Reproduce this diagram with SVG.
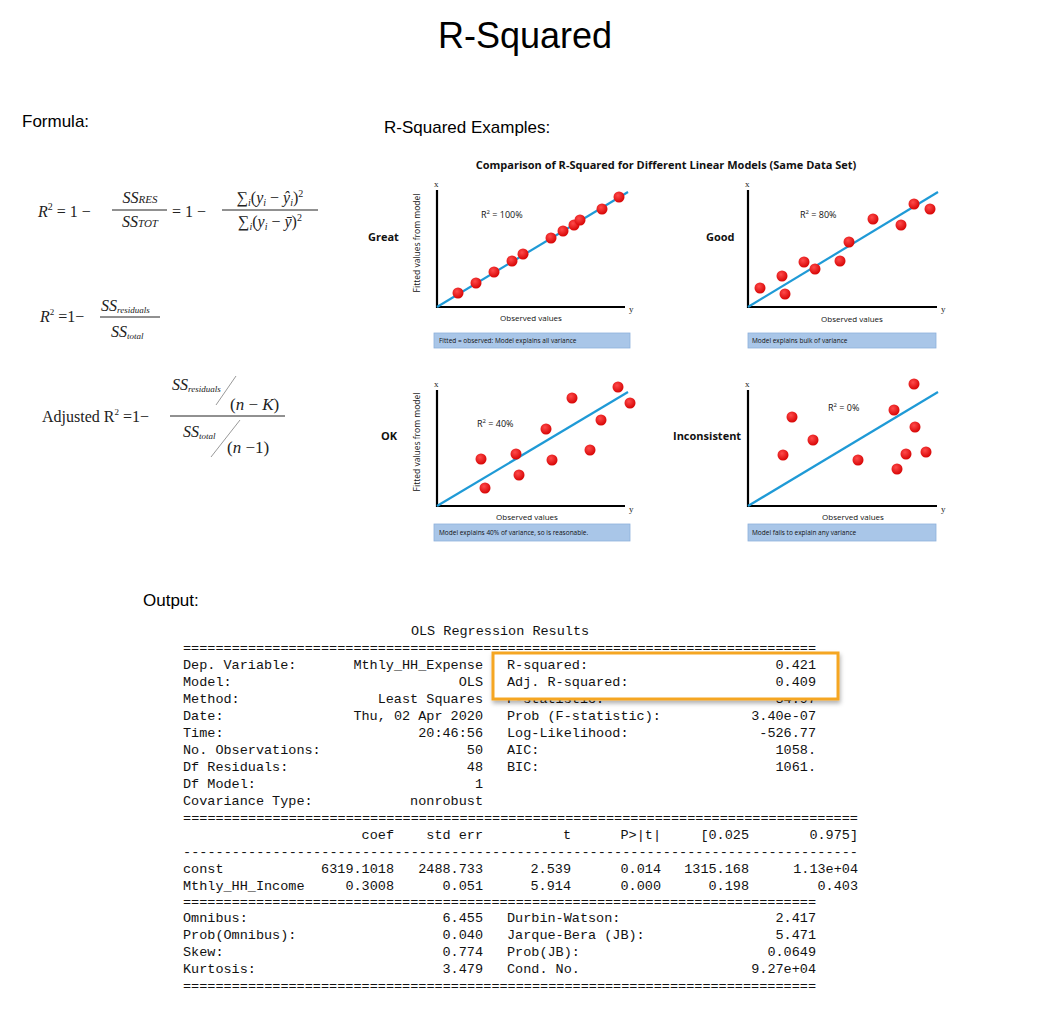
<svg xmlns="http://www.w3.org/2000/svg" width="1047" height="1021" viewBox="0 0 1047 1021">
<defs>
<style>
.h{font-family:"Liberation Sans",Arial,sans-serif;fill:#000}
.m{font-family:"Liberation Mono","DejaVu Sans Mono",monospace;font-size:13.5px;fill:#111;white-space:pre}
.e{text-anchor:end}
.c{font-family:"Open Sans","Liberation Sans",sans-serif;fill:#111}
.s{font-family:"Liberation Serif","Times New Roman",serif;fill:#222}
.i{font-style:italic}
.ax{stroke:#000;stroke-width:2.2;fill:none}
.ln{stroke:#1f9ad6;stroke-width:2.2}
.d{fill:url(#dot)}
.bx{fill:#a9c6e8;stroke:#8eb1dc;stroke-width:0.8}
</style>
<radialGradient id="dot" cx="0.4" cy="0.35" r="0.7"><stop offset="0" stop-color="#ff4a4a"/><stop offset="1" stop-color="#d40000"/></radialGradient>
<filter id="sh" x="-10%" y="-20%" width="120%" height="150%"><feDropShadow dx="1" dy="3" stdDeviation="2" flood-opacity="0.3"/></filter>
</defs>
<rect width="1047" height="1021" fill="#fff"/>
<text class="h" x="525" y="48" font-size="36" text-anchor="middle">R-Squared</text>
<text class="h" x="22" y="127" font-size="17">Formula:</text>
<text class="h" x="384" y="133" font-size="17">R-Squared Examples:</text>
<text class="h" x="143" y="606" font-size="17">Output:</text>

<g id="formula1" class="s" font-size="16">
<text x="38" y="217" class="i">R<tspan font-size="10" dy="-7" font-style="normal">2</tspan><tspan dy="7" font-style="normal"> = 1 −</tspan></text>
<text x="140" y="203" text-anchor="middle" class="i">SS<tspan font-size="11">RES</tspan></text>
<line x1="112" y1="210" x2="167" y2="210" stroke="#222"/>
<text x="140" y="227" text-anchor="middle" class="i">SS<tspan font-size="11">TOT</tspan></text>
<text x="172" y="217">= 1 −</text>
<text x="270" y="203" text-anchor="middle">∑<tspan font-size="10" dy="3" class="i">i</tspan><tspan dy="-3">(</tspan><tspan class="i">y</tspan><tspan font-size="10" dy="3" class="i">i</tspan><tspan dy="-3"> − </tspan><tspan class="i">ŷ</tspan><tspan font-size="10" dy="3" class="i">i</tspan><tspan dy="-3">)</tspan><tspan font-size="10" dy="-6">2</tspan></text>
<line x1="222" y1="210" x2="318" y2="210" stroke="#222"/>
<text x="270" y="227" text-anchor="middle">∑<tspan font-size="10" dy="3" class="i">i</tspan><tspan dy="-3">(</tspan><tspan class="i">y</tspan><tspan font-size="10" dy="3" class="i">i</tspan><tspan dy="-3"> − </tspan><tspan class="i">ȳ</tspan><tspan dy="0">)</tspan><tspan font-size="10" dy="-6">2</tspan></text>
</g>

<g id="formula2" class="s" font-size="16">
<text x="40" y="322" class="i">R<tspan font-size="9" dy="-7" font-style="normal">2</tspan><tspan dy="7" font-style="normal"> =1−</tspan></text>
<text x="101" y="311" class="i">SS<tspan font-size="9" dy="2">residuals</tspan></text>
<line x1="100" y1="317" x2="160" y2="317" stroke="#222"/>
<text x="111" y="337" class="i">SS<tspan font-size="9" dy="2">total</tspan></text>
</g>

<g id="formula3" class="s" font-size="16">
<text x="42" y="422">Adjusted R<tspan font-size="9" dy="-7">2</tspan><tspan dy="7"> =1−</tspan></text>
<text x="172" y="390" class="i">SS<tspan font-size="9" dy="2">residuals</tspan></text>
<line x1="216" y1="405" x2="236" y2="376" stroke="#999"/>
<text x="230" y="410" font-size="17">(<tspan class="i">n</tspan> − <tspan class="i">K</tspan>)</text>
<line x1="170" y1="416" x2="285" y2="416" stroke="#222"/>
<text x="183" y="437" class="i">SS<tspan font-size="9" dy="2">total</tspan></text>
<line x1="211" y1="457" x2="240" y2="420" stroke="#999"/>
<text x="227" y="453" font-size="17">(<tspan class="i">n</tspan> −1)</text>
</g>

<text class="c" x="666" y="169" font-size="11" font-weight="bold" text-anchor="middle">Comparison of R-Squared for Different Linear Models (Same Data Set)</text>

<g id="chart-great">
<text class="c" x="368" y="241" font-size="11" font-weight="bold">Great</text>
<text class="c" x="420" y="243" font-size="8.5" text-anchor="middle" transform="rotate(-90 420 243)">Fitted values from model</text>
<path class="ax" d="M437 190V307H625"/>
<text class="s" x="434" y="187" font-size="9">x</text><text class="s" x="629" y="312" font-size="9">y</text>
<line class="ln" x1="437" y1="307" x2="628" y2="192"/>
<g class="d"><circle cx="458" cy="293" r="5.5"/><circle cx="476" cy="283" r="5.5"/><circle cx="494" cy="272" r="5.5"/><circle cx="512" cy="261" r="5.5"/><circle cx="523" cy="254" r="5.5"/><circle cx="551" cy="238" r="5.5"/><circle cx="563" cy="231" r="5.5"/><circle cx="574" cy="225" r="5.5"/><circle cx="580" cy="220" r="5.5"/><circle cx="602" cy="209" r="5.5"/><circle cx="619" cy="197" r="5.5"/></g>
<text class="c" x="481" y="218" font-size="9">R<tspan font-size="6" dy="-4">2</tspan><tspan dy="4"> = 100%</tspan></text>
<text class="c" x="531" y="321" font-size="8" text-anchor="middle">Observed values</text>
<rect class="bx" x="434" y="333" width="196" height="15"/>
<text class="c" x="439" y="343" font-size="6.5">Fitted = observed: Model explains all variance</text>
</g>

<g id="chart-good">
<text class="c" x="706" y="241" font-size="11" font-weight="bold">Good</text>
<path class="ax" d="M748 190V307H937"/>
<text class="s" x="745" y="187" font-size="9">x</text><text class="s" x="941" y="312" font-size="9">y</text>
<line class="ln" x1="748" y1="307" x2="938" y2="192"/>
<g class="d"><circle cx="760" cy="288" r="5.5"/><circle cx="782" cy="276" r="5.5"/><circle cx="785" cy="294" r="5.5"/><circle cx="804" cy="262" r="5.5"/><circle cx="815" cy="269" r="5.5"/><circle cx="840" cy="261" r="5.5"/><circle cx="849" cy="242" r="5.5"/><circle cx="873" cy="219" r="5.5"/><circle cx="901" cy="225" r="5.5"/><circle cx="914" cy="204" r="5.5"/><circle cx="930" cy="209" r="5.5"/></g>
<text class="c" x="800" y="218" font-size="9">R<tspan font-size="6" dy="-4">2</tspan><tspan dy="4">  = 80%</tspan></text>
<text class="c" x="852" y="322" font-size="8" text-anchor="middle">Observed values</text>
<rect class="bx" x="748" y="333" width="188" height="15"/>
<text class="c" x="752" y="343" font-size="6.5">Model explains bulk of variance</text>
</g>

<g id="chart-ok">
<text class="c" x="381" y="440" font-size="11" font-weight="bold">OK</text>
<text class="c" x="420" y="442" font-size="8.5" text-anchor="middle" transform="rotate(-90 420 442)">Fitted values from model</text>
<path class="ax" d="M437 390V506H625"/>
<text class="s" x="434" y="387" font-size="9">x</text><text class="s" x="629" y="512" font-size="9">y</text>
<line class="ln" x1="437" y1="506" x2="628" y2="392"/>
<g class="d"><circle cx="481" cy="459" r="5.5"/><circle cx="485" cy="488" r="5.5"/><circle cx="516" cy="454" r="5.5"/><circle cx="519" cy="475" r="5.5"/><circle cx="546" cy="429" r="5.5"/><circle cx="552" cy="460" r="5.5"/><circle cx="572" cy="398" r="5.5"/><circle cx="590" cy="450" r="5.5"/><circle cx="601" cy="420" r="5.5"/><circle cx="618" cy="387" r="5.5"/><circle cx="630" cy="403" r="5.5"/></g>
<text class="c" x="477" y="427" font-size="9">R<tspan font-size="6" dy="-4">2</tspan><tspan dy="4">  = 40%</tspan></text>
<text class="c" x="527" y="520" font-size="8" text-anchor="middle">Observed values</text>
<rect class="bx" x="434" y="524" width="196" height="17"/>
<text class="c" x="439" y="535" font-size="6.5">Model explains 40% of variance, so is reasonable.</text>
</g>

<g id="chart-inconsistent">
<text class="c" x="673" y="440" font-size="11" font-weight="bold">Inconsistent</text>
<path class="ax" d="M748 390V506H937"/>
<text class="s" x="745" y="387" font-size="9">x</text><text class="s" x="941" y="512" font-size="9">y</text>
<line class="ln" x1="748" y1="506" x2="938" y2="392"/>
<g class="d"><circle cx="783" cy="455" r="5.5"/><circle cx="792" cy="417" r="5.5"/><circle cx="813" cy="440" r="5.5"/><circle cx="858" cy="460" r="5.5"/><circle cx="894" cy="410" r="5.5"/><circle cx="897" cy="469" r="5.5"/><circle cx="906" cy="454" r="5.5"/><circle cx="914" cy="384" r="5.5"/><circle cx="915" cy="427" r="5.5"/><circle cx="926" cy="452" r="5.5"/></g>
<text class="c" x="828" y="411" font-size="9">R<tspan font-size="6" dy="-4">2</tspan><tspan dy="4">   = 0%</tspan></text>
<text class="c" x="853" y="520" font-size="8" text-anchor="middle">Observed values</text>
<rect class="bx" x="748" y="524" width="188" height="17"/>
<text class="c" x="752" y="535" font-size="6.5">Model fails to explain any variance</text>
</g>

<g id="ols-output">
<text class="m" x="500" y="635" text-anchor="middle">OLS Regression Results</text>
<text class="m" x="183" y="652" textLength="633" lengthAdjust="spacingAndGlyphs">==============================================================================</text>
<g>
<text class="m" x="183" y="669">Dep. Variable:</text><text class="m e" x="483" y="669">Mthly_HH_Expense</text>
<text class="m" x="183" y="686">Model:</text><text class="m e" x="483" y="686">OLS</text>
<text class="m" x="183" y="703">Method:</text><text class="m e" x="483" y="703">Least Squares</text>
<text class="m" x="183" y="720">Date:</text><text class="m e" x="483" y="720">Thu, 02 Apr 2020</text>
<text class="m" x="183" y="737">Time:</text><text class="m e" x="483" y="737">20:46:56</text>
<text class="m" x="183" y="754">No. Observations:</text><text class="m e" x="483" y="754">50</text>
<text class="m" x="183" y="771">Df Residuals:</text><text class="m e" x="483" y="771">48</text>
<text class="m" x="183" y="788">Df Model:</text><text class="m e" x="483" y="788">1</text>
<text class="m" x="183" y="805">Covariance Type:</text><text class="m e" x="483" y="805">nonrobust</text>
</g>
<g>
<text class="m" x="507" y="703">F-statistic:</text><text class="m e" x="816" y="703">34.97</text>
<text class="m" x="507" y="720">Prob (F-statistic):</text><text class="m e" x="816" y="720">3.40e-07</text>
<text class="m" x="507" y="737">Log-Likelihood:</text><text class="m e" x="816" y="737">-526.77</text>
<text class="m" x="507" y="754">AIC:</text><text class="m e" x="816" y="754">1058.</text>
<text class="m" x="507" y="771">BIC:</text><text class="m e" x="816" y="771">1061.</text>
</g>
<rect x="493" y="653" width="345" height="46" fill="#fff" stroke="#f5a623" stroke-width="3" filter="url(#sh)"/>
<text class="m" x="507" y="669">R-squared:</text><text class="m e" x="816" y="669">0.421</text>
<text class="m" x="507" y="686">Adj. R-squared:</text><text class="m e" x="816" y="686">0.409</text>

<text class="m" x="183" y="822" textLength="675" lengthAdjust="spacingAndGlyphs">===================================================================================</text>
<text class="m e" x="394" y="839">coef</text><text class="m e" x="483" y="839">std err</text><text class="m e" x="571" y="839">t</text><text class="m e" x="661" y="839">P&gt;|t|</text><text class="m e" x="749" y="839">[0.025</text><text class="m e" x="858" y="839">0.975]</text>
<text class="m" x="183" y="856" textLength="675" lengthAdjust="spacingAndGlyphs">-----------------------------------------------------------------------------------</text>
<text class="m" x="183" y="873">const</text><text class="m e" x="394" y="873">6319.1018</text><text class="m e" x="483" y="873">2488.733</text><text class="m e" x="571" y="873">2.539</text><text class="m e" x="661" y="873">0.014</text><text class="m e" x="749" y="873">1315.168</text><text class="m e" x="858" y="873">1.13e+04</text>
<text class="m" x="183" y="890">Mthly_HH_Income</text><text class="m e" x="394" y="890">0.3008</text><text class="m e" x="483" y="890">0.051</text><text class="m e" x="571" y="890">5.914</text><text class="m e" x="661" y="890">0.000</text><text class="m e" x="749" y="890">0.198</text><text class="m e" x="858" y="890">0.403</text>
<text class="m" x="183" y="906" textLength="633" lengthAdjust="spacingAndGlyphs">==============================================================================</text>
<text class="m" x="183" y="922">Omnibus:</text><text class="m e" x="483" y="922">6.455</text><text class="m" x="507" y="922">Durbin-Watson:</text><text class="m e" x="816" y="922">2.417</text>
<text class="m" x="183" y="939">Prob(Omnibus):</text><text class="m e" x="483" y="939">0.040</text><text class="m" x="507" y="939">Jarque-Bera (JB):</text><text class="m e" x="816" y="939">5.471</text>
<text class="m" x="183" y="956">Skew:</text><text class="m e" x="483" y="956">0.774</text><text class="m" x="507" y="956">Prob(JB):</text><text class="m e" x="816" y="956">0.0649</text>
<text class="m" x="183" y="973">Kurtosis:</text><text class="m e" x="483" y="973">3.479</text><text class="m" x="507" y="973">Cond. No.</text><text class="m e" x="816" y="973">9.27e+04</text>
<text class="m" x="183" y="990" textLength="633" lengthAdjust="spacingAndGlyphs">==============================================================================</text>
</g>
</svg>
